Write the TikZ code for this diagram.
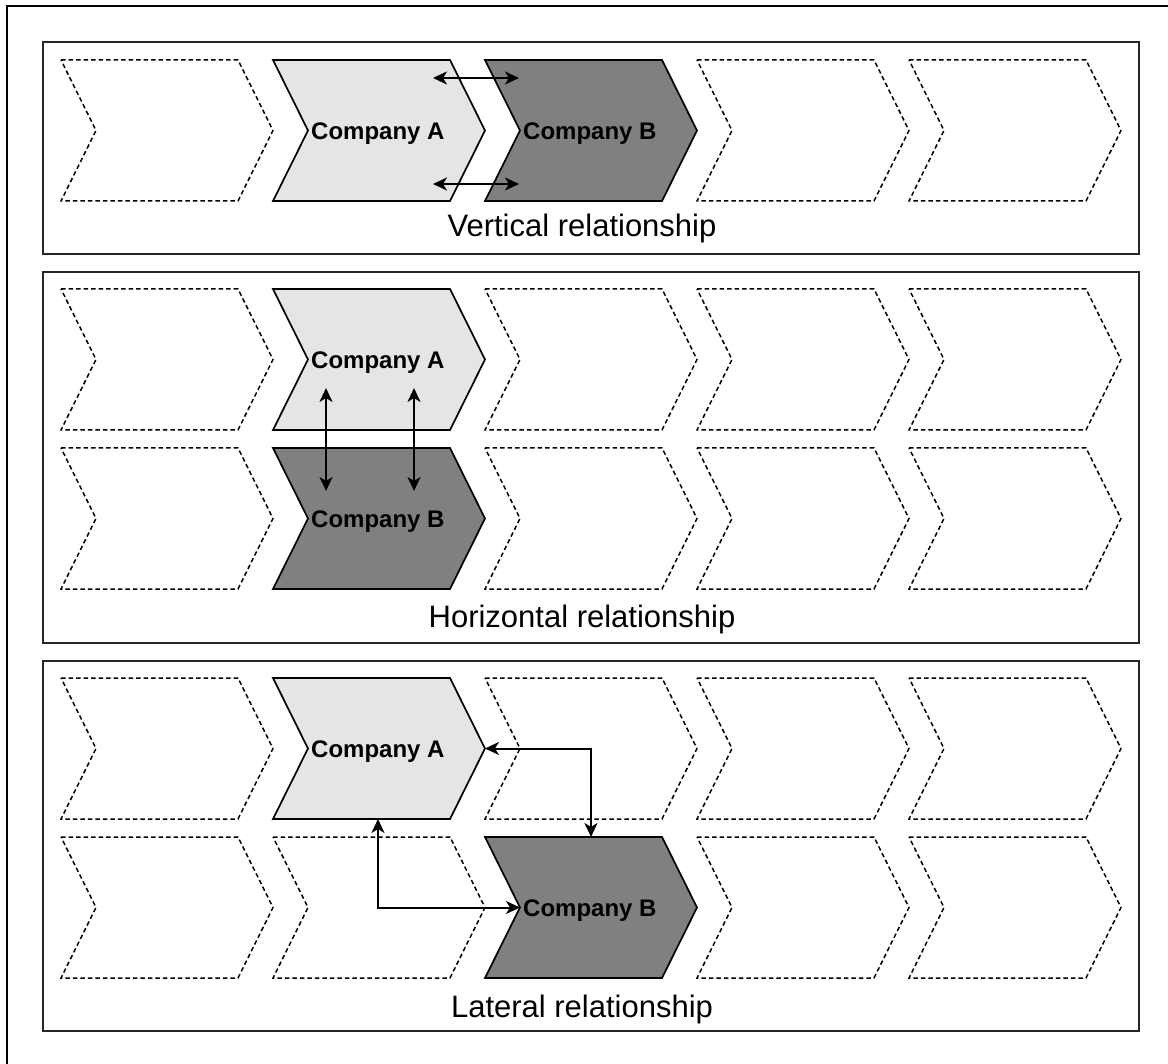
\documentclass[tikz,border=0pt]{standalone}
\usepackage{fontspec}
\setmainfont{Liberation Sans}
\usetikzlibrary{arrows.meta,calc}

% One value-chain stage: name, left x, top y, style.
% Defines (name-nw), (name-tip), (name-sw) and (name-notch).
\newcommand\chev[4]{%
  \path[#4] (#2,#3) coordinate (#1-nw) -- ++(177,0) -- ++(35,70.5) coordinate (#1-tip)
    -- ++(-35,70.5) -- ++(-177,0) coordinate (#1-sw) -- ++(35,-70.5) coordinate (#1-notch) -- cycle;
}

\begin{document}
\begin{tikzpicture}[x=1pt,y=-1pt,
  frame/.style={draw=black,line width=2.2pt},
  panel/.style={draw=black!85,line width=2.4pt},
  stage/.style={draw=black,line width=1.5pt,dash pattern=on 4.5pt off 3pt},
  firmA/.style={draw=black,line width=1.7pt,fill=gray!20},
  firmB/.style={draw=black,line width=1.7pt,fill=gray},
  firmlabel/.style={font=\bfseries\fontsize{24}{28}\selectfont,anchor=base west,inner sep=0pt},
  caption/.style={font=\fontsize{31}{36}\selectfont,anchor=base,inner sep=0pt},
  link/.style={line width=2pt,{Stealth[length=14pt,width=13pt,inset=4pt]}-{Stealth[length=14pt,width=13pt,inset=4pt]}}
]
\useasboundingbox (0,0) rectangle (1168,1064);

% outer frame (runs off the page on the right and bottom)
\draw[frame] (1168,6) -- (7,6) -- (7,1064);

% panels
\draw[panel] (43,42) rectangle (1139,254);
\draw[panel] (43,272) rectangle (1139,643);
\draw[panel] (43,661) rectangle (1139,1031);

% ---- vertical relationship ----
\foreach \n/\x in {a/61,b/697,c/909} {\chev{p1\n}{\x}{60}{stage}}
\chev{A1}{273}{60}{firmA}
\chev{B1}{485}{60}{firmB}
\node[firmlabel] (la1) at ($(A1-notch)+(3,9)$) {Company A};
\node[firmlabel] (lb1) at ($(B1-notch)+(3,9)$) {Company B};
\coordinate (v1l) at (433,78);  \coordinate (v1r) at (519,78);
\coordinate (v2l) at (433,184); \coordinate (v2r) at (519,184);
\draw[link] (v1l) -- (v1r);
\draw[link] (v2l) -- (v2r);
\node[caption] (cap1) at (582,237) {Vertical relationship};

% ---- horizontal relationship ----
\foreach \n/\x in {a/61,b/485,c/697,d/909} {
  \chev{p2\n}{\x}{289}{stage}
  \chev{q2\n}{\x}{448}{stage}
}
\chev{A2}{273}{289}{firmA}
\chev{B2}{273}{448}{firmB}
\node[firmlabel] (la2) at ($(A2-notch)+(3,9)$) {Company A};
\node[firmlabel] (lb2) at ($(B2-notch)+(3,9)$) {Company B};
\coordinate (h1t) at (326,388); \coordinate (h1b) at (326,491);
\coordinate (h2t) at (414,388); \coordinate (h2b) at (414,491);
\draw[link] (h1t) -- (h1b);
\draw[link] (h2t) -- (h2b);
\node[caption] (cap2) at (582,627) {Horizontal relationship};

% ---- lateral relationship ----
\foreach \n/\x in {a/61,b/485,c/697,d/909} {\chev{p3\n}{\x}{678}{stage}}
\foreach \n/\x in {a/61,b/273,c/697,d/909} {\chev{q3\n}{\x}{837}{stage}}
\chev{A3}{273}{678}{firmA}
\chev{B3}{485}{837}{firmB}
\node[firmlabel] (la3) at ($(A3-notch)+(3,9)$) {Company A};
\node[firmlabel] (lb3) at ($(B3-notch)+(3,9)$) {Company B};
\draw[link] (A3-tip) -| ($(B3-nw)+(106,0)$);
\draw[link] ($(A3-sw)+(105,0)$) |- (B3-notch);
\node[caption] (cap3) at (582,1017) {Lateral relationship};
\end{tikzpicture}
\end{document}
